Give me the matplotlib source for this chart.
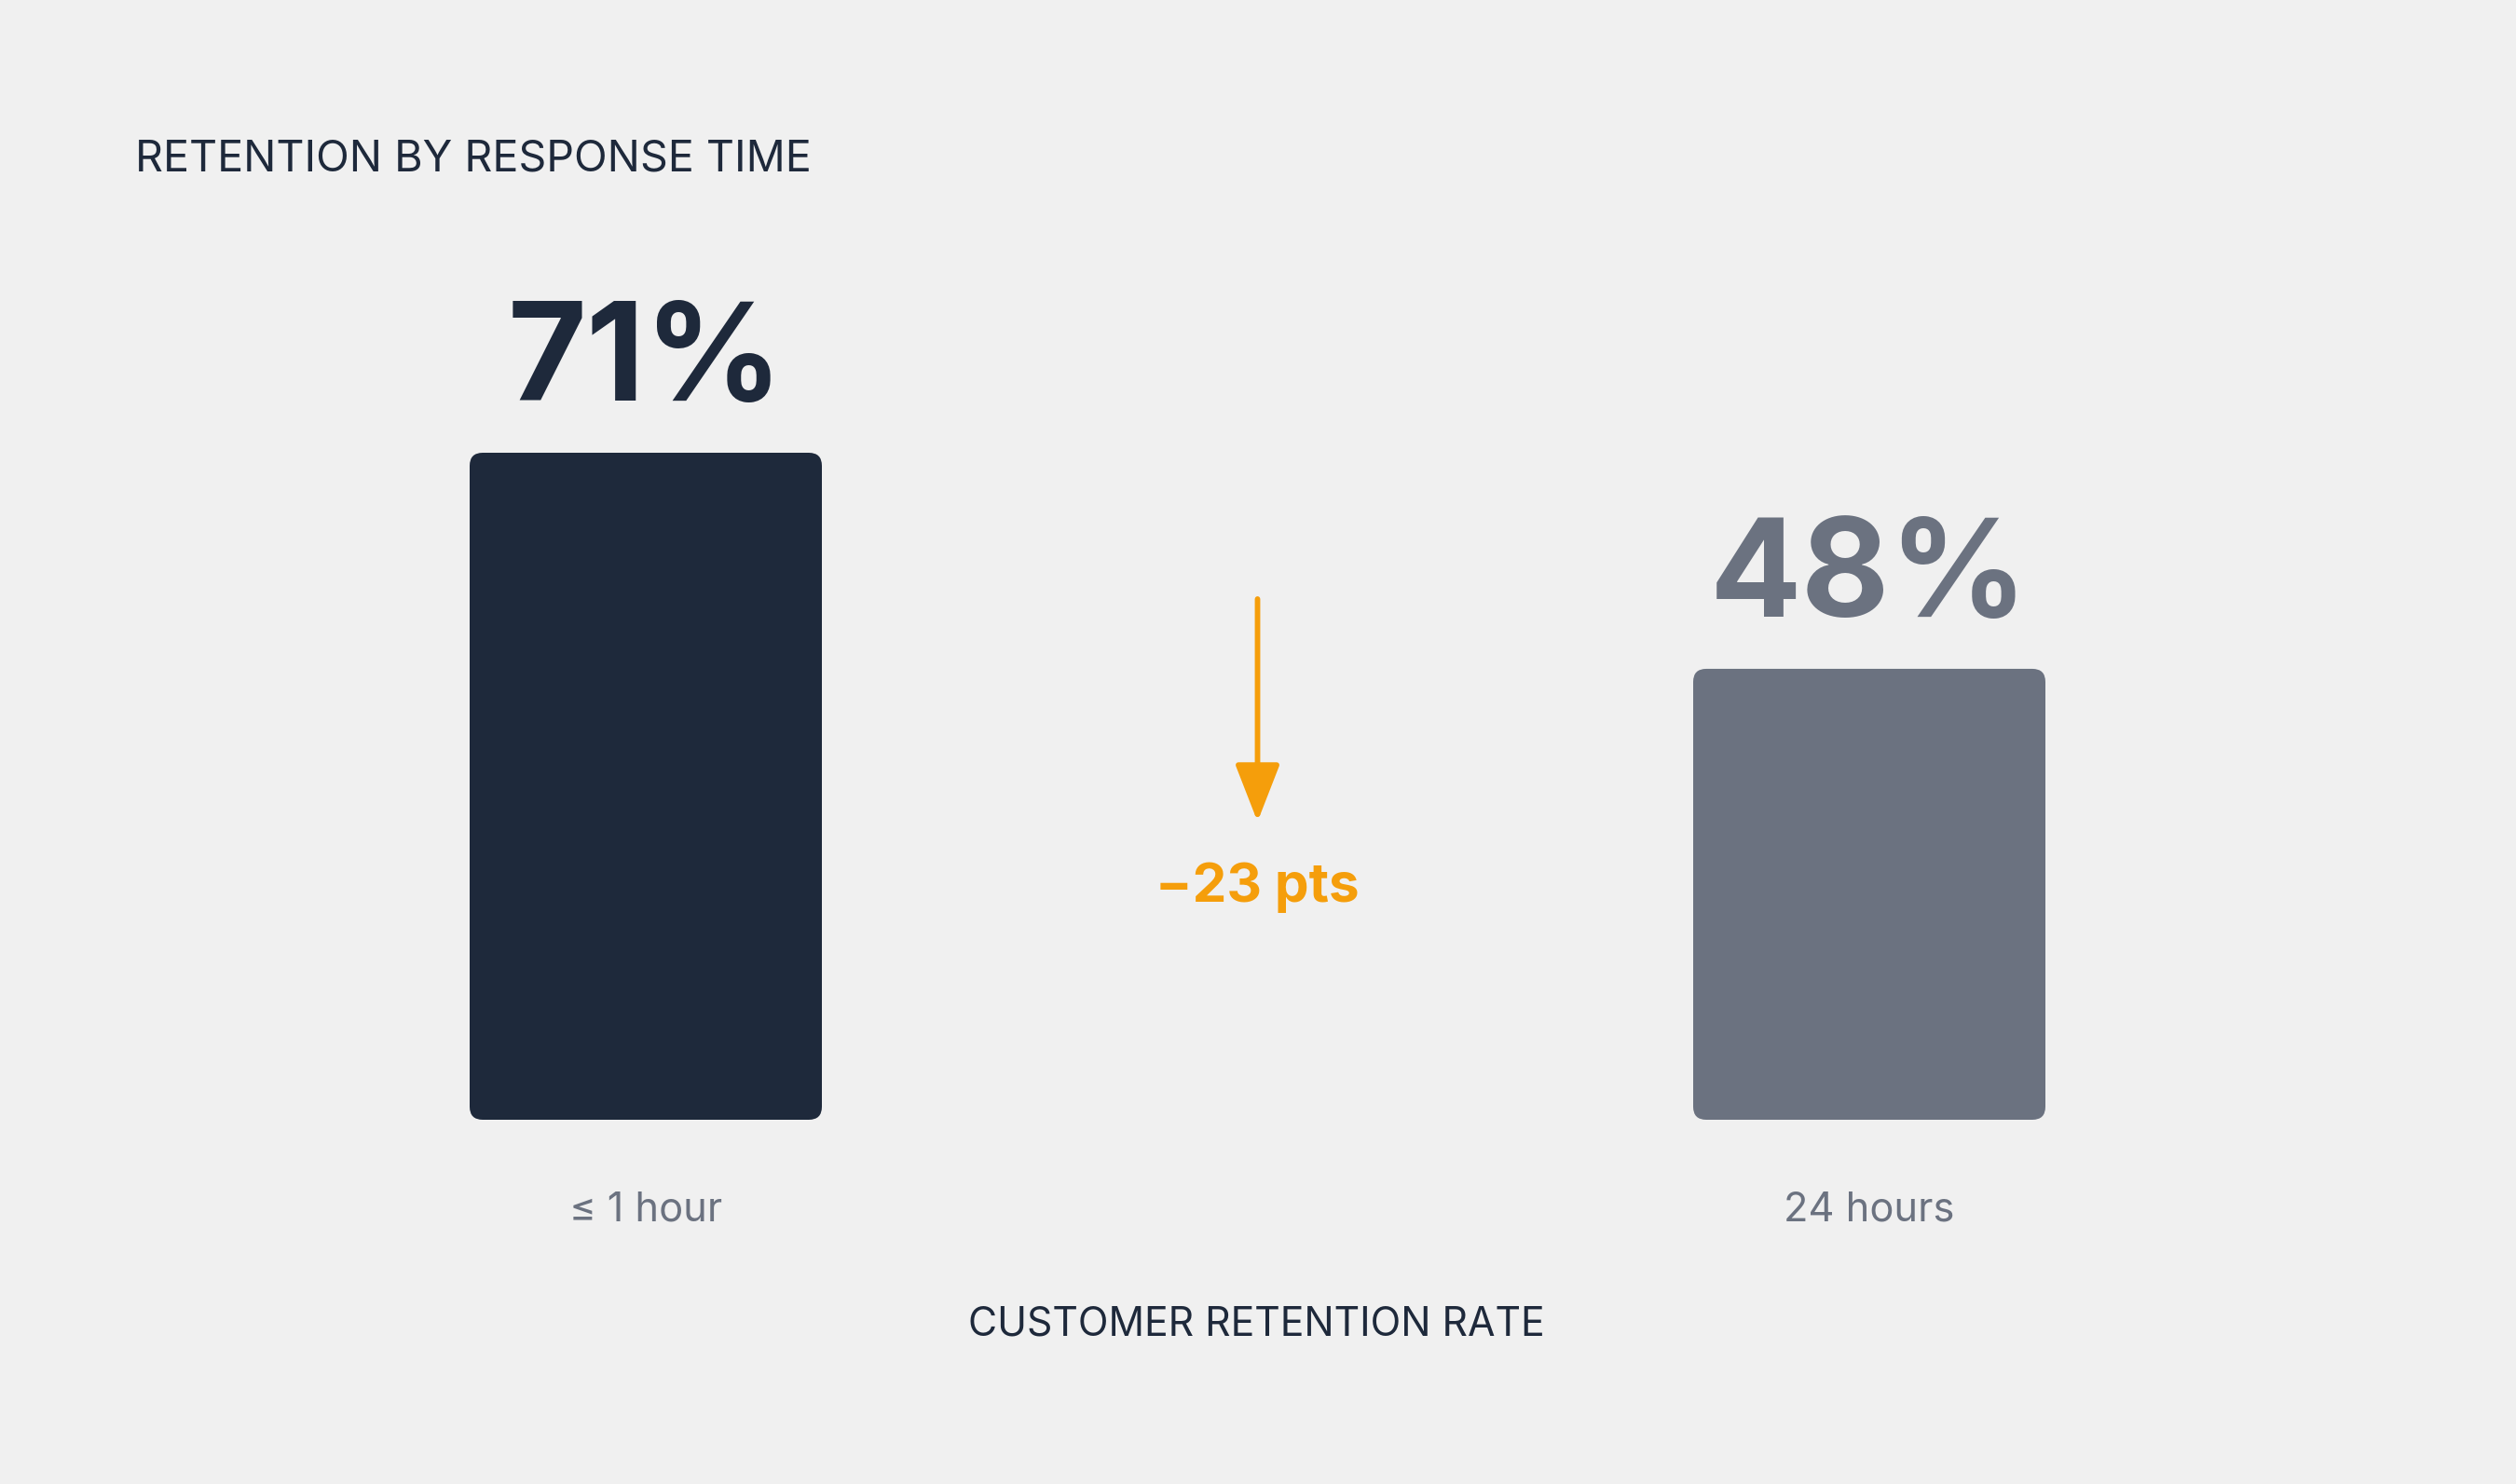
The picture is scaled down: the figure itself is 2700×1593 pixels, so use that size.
import matplotlib.pyplot as plt
from matplotlib.patches import FancyBboxPatch

# data
categories = ['≤ 1 hour', '24 hours']
retention = [71, 48]
bar_colors = ['#1E293B', '#6B7280']
title = 'RETENTION BY RESPONSE TIME'
xlabel = 'CUSTOMER RETENTION RATE'

BG = '#F0F0F0'
ORANGE = '#F59E0B'
W, H, DPI = 2700, 1593, 200

plt.rcParams['font.family'] = ['Inter', 'DejaVu Sans']

fig = plt.figure(figsize=(W / DPI, H / DPI), dpi=DPI, facecolor=BG)

# axes: value 0 at y=1202px, 71 at y=486px (from top)
ax_left, ax_w = 36.5 / W, 2626 / W
ax_bot, ax_h = (H - 1202) / H, 716 / H
ax = fig.add_axes([ax_left, ax_bot, ax_w, ax_h])
ax.set_facecolor(BG)
ax.set_xlim(-0.5, 1.5)
ax.set_ylim(0, max(retention))
ax.axis('off')

bar_w = 378 / 1313
# keep corner rounding circular despite unequal axis scales
x_per_px = 2 / 2626
y_per_px = max(retention) / 716
aspect = y_per_px / x_per_px
r = 14 * x_per_px

for i, (v, c) in enumerate(zip(retention, bar_colors)):
    p = FancyBboxPatch((i - bar_w / 2, 0), bar_w, v,
                       boxstyle=f'round,pad=0,rounding_size={r}',
                       mutation_aspect=aspect, facecolor=c, edgecolor='none')
    ax.add_patch(p)
    ax.annotate(f'{v}%', xy=(i, v), xytext=(0, 20), textcoords='offset points',
                ha='center', va='baseline', fontsize=52.5, fontweight='bold',
                color=c, annotation_clip=False)
    ax.annotate(categories[i], xy=(i, 0), xytext=(0, -109 / 2.778),
                textcoords='offset points', ha='center', va='baseline',
                fontsize=15.6, color='#6B7280', annotation_clip=False)

# difference arrow
ax.annotate('', xy=(0.5, (1202 - 882) / 716), xytext=(0.5, (1202 - 643) / 716),
            xycoords=('data', 'axes fraction'), textcoords=('data', 'axes fraction'),
            arrowprops=dict(arrowstyle='-|>,head_length=19,head_width=7.4',
                            mutation_scale=1, color=ORANGE, lw=2.1,
                            shrinkA=0, shrinkB=0))
diff = retention[0] - retention[1]
ax.text(0.5, (1202 - 968) / 716, f'\u2212{diff} pts', transform=ax.get_xaxis_transform(),
        ha='center', va='baseline', fontsize=21, fontweight='bold', color=ORANGE)

fig.text(145 / W, 1 - 184 / H, title, ha='left', va='baseline',
         fontsize=16.8, color='#1E293B')
fig.text(1348 / W, 1 - 1433 / H, xlabel, ha='center', va='baseline',
         fontsize=15.4, color='#1E293B')

fig.savefig('out.png', dpi=DPI, facecolor=BG)
